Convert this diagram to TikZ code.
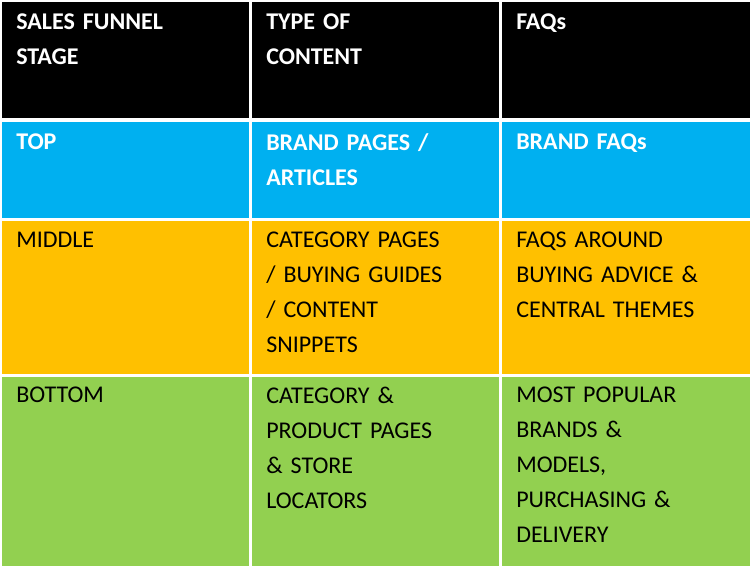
\documentclass[tikz,border=0pt]{standalone}
\usepackage{fontspec}
\setmainfont{Carlito}
\definecolor{cblue}{HTML}{00B0F0}
\definecolor{corange}{HTML}{FFC000}
\definecolor{cgreen}{HTML}{92D050}
\begin{document}
\begin{tikzpicture}[x=0.75pt,y=-0.75pt,
  txt/.style={anchor=north west,inner sep=0pt,align=left,text width=170pt,font=\fontsize{18}{26.25}\selectfont},
  hd/.style={txt,text=white,font=\fontsize{18}{26.25}\selectfont\bfseries}]
\useasboundingbox (0,0) rectangle (754,576);
\fill[white] (0,0) rectangle (754,576);
\foreach \x/\w in {2/247,252/247,502/248}{
  \fill[black] (\x,2) rectangle ++(\w,116);
  \fill[cblue] (\x,122) rectangle ++(\w,96);
  \fill[corange] (\x,221) rectangle ++(\w,153);
  \fill[cgreen] (\x,377) rectangle ++(\w,189);
}
\node[hd] (h1) at (16,13) {SALES FUNNEL\\STAGE};
\node[hd] (h2) at (266,13) {TYPE OF\\CONTENT};
\node[hd] (h3) at (516,13) {FAQs};
\node[hd] (t1) at (16,133) {TOP};
\node[hd] (t2) at (266,133) {BRAND PAGES /\\ARTICLES};
\node[hd] (t3) at (516,133) {BRAND FAQs};
\node[txt] (m1) at (16,232) {MIDDLE};
\node[txt] (m2) at (266,232) {CATEGORY PAGES\\/ BUYING GUIDES\\/ CONTENT\\SNIPPETS};
\node[txt] (m3) at (516,232) {FAQS AROUND\\BUYING ADVICE \&\\CENTRAL THEMES};
\node[txt] (b1) at (16,387) {BOTTOM};
\node[txt] (b2) at (266,387) {CATEGORY \&\\PRODUCT PAGES\\\& STORE\\LOCATORS};
\node[txt] (b3) at (516,387) {MOST POPULAR\\BRANDS \&\\MODELS,\\PURCHASING \&\\DELIVERY};
\end{tikzpicture}
\end{document}
